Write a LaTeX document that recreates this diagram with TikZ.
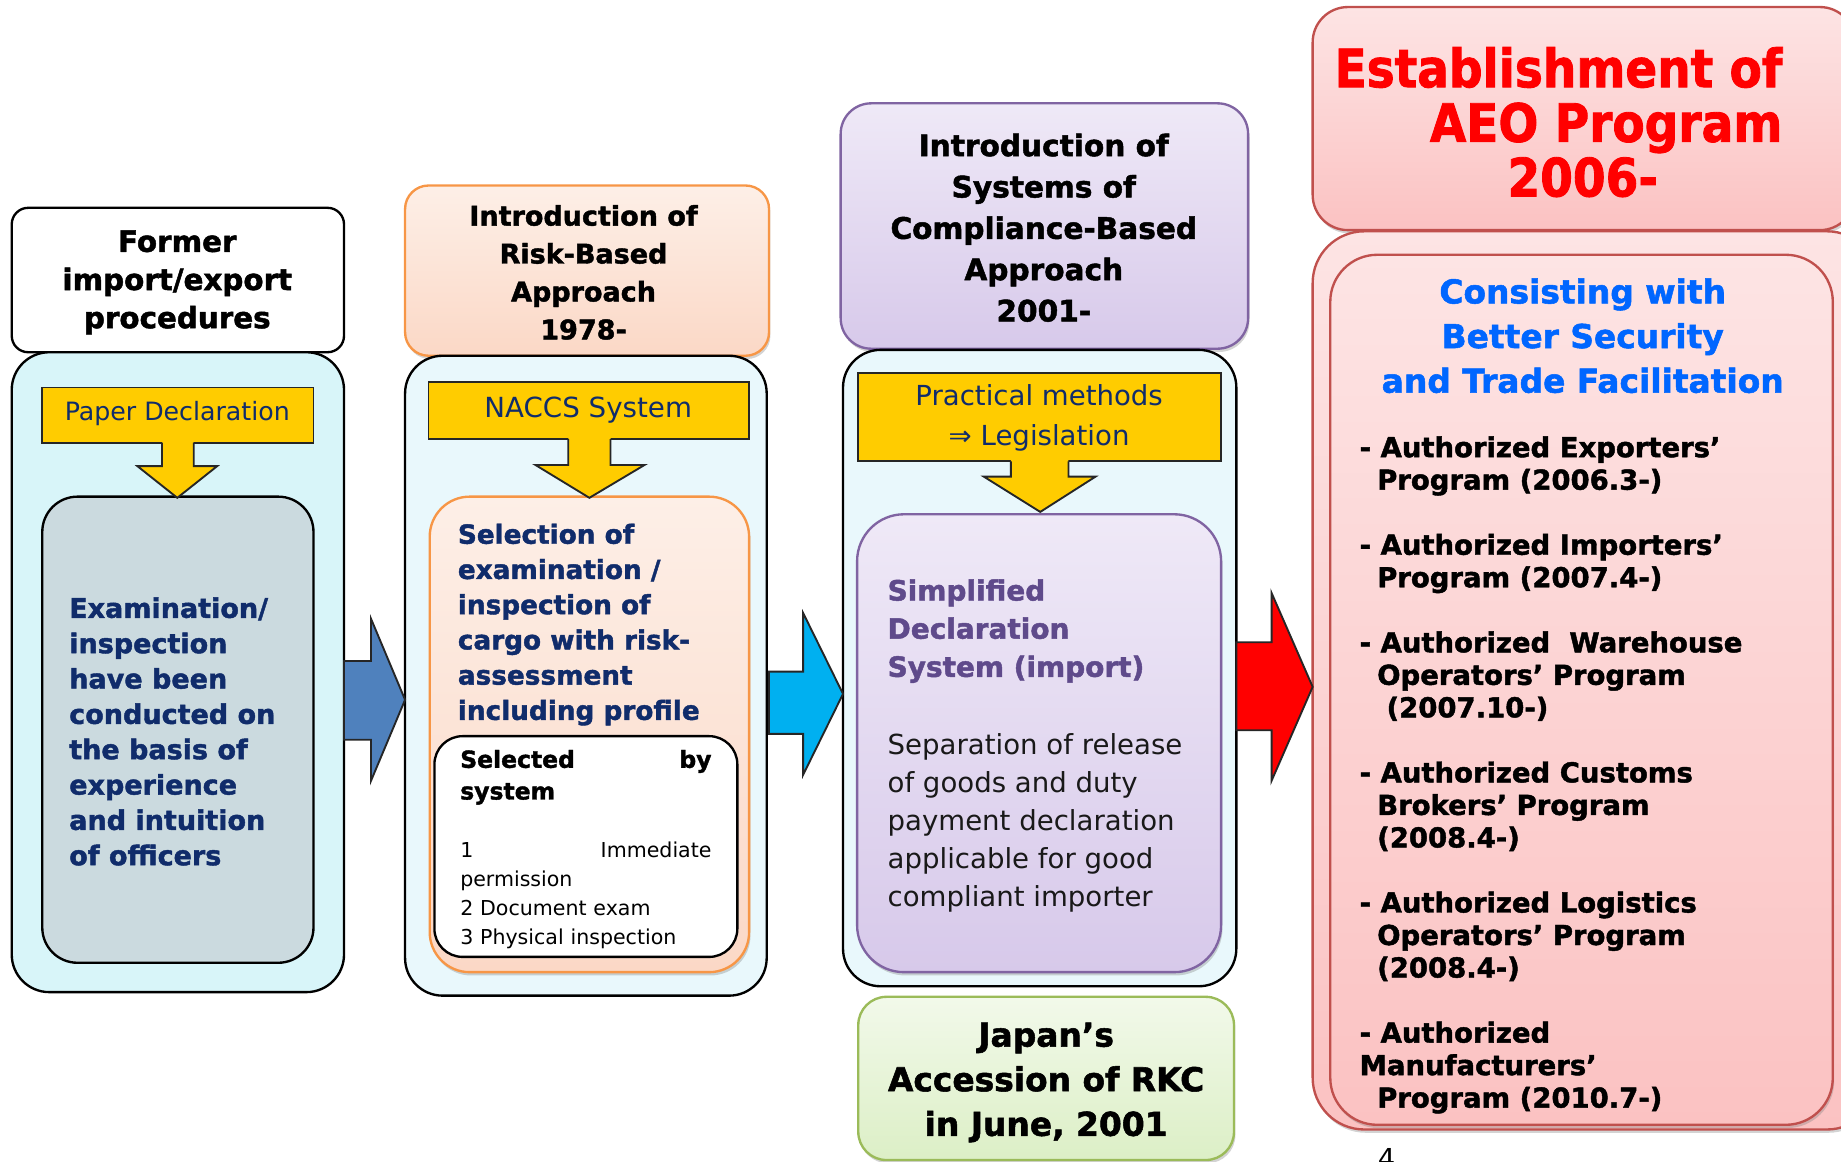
\documentclass[tikz,border=0pt]{standalone}
\usepackage{fontspec}
\setmainfont{DejaVu Sans}[BoldFeatures={FakeBold=1.6}]
\newfontfamily\condfont{DejaVu Sans}[FakeStretch=0.89,BoldFeatures={FakeBold=1.6}]
\usetikzlibrary{fit,shadows}
\definecolor{navy}{HTML}{102C6B}
\definecolor{ylw}{HTML}{FFCC00}
\definecolor{cyanA}{HTML}{D8F5F9}
\definecolor{cyanB}{HTML}{E9F8FC}
\definecolor{grayin}{HTML}{CBDADF}
\definecolor{orgline}{HTML}{F79646}
\definecolor{peachT}{HTML}{FDEFE7}
\definecolor{peachB}{HTML}{FBD8C6}
\definecolor{purline}{HTML}{8064A2}
\definecolor{purT}{HTML}{EFE9F7}
\definecolor{purB}{HTML}{D7C9EA}
\definecolor{purtext}{HTML}{5F4A8B}
\definecolor{grnline}{HTML}{9BBB59}
\definecolor{grnT}{HTML}{F2F9EA}
\definecolor{grnB}{HTML}{DCEFC6}
\definecolor{redline}{HTML}{C0504D}
\definecolor{pinkT}{HTML}{FDE4E4}
\definecolor{pinkB}{HTML}{FBC2C2}
\definecolor{aeoblue}{HTML}{0066FF}
\definecolor{steel}{HTML}{4F81BD}
\definecolor{skyb}{HTML}{00B0F0}
\begin{document}
\begin{tikzpicture}[x=0.5pt,y=-0.5pt,
  every node/.style={inner sep=0pt,outer sep=0pt},
  fbox/.style={rectangle,inner sep=0pt},
  shad/.style={drop shadow={shadow xshift=0.6pt,shadow yshift=-1.4pt,opacity=.35}},
  whitehdr/.style={fbox,draw=black,line width=1pt,fill=white,rounded corners=7pt},
  cyanbox/.style={fbox,draw=black,line width=1pt,rounded corners=16pt},
  banner/.style={fbox,draw=black!85,line width=0.8pt,fill=ylw},
  peachbox/.style={fbox,draw=orgline,line width=1pt,top color=peachT,bottom color=peachB,shad},
  purbox/.style={fbox,draw=purline,line width=1pt,top color=purT,bottom color=purB,shad},
  grnbox/.style={fbox,draw=grnline,line width=1pt,top color=grnT,bottom color=grnB,shad},
  pinkbox/.style={fbox,draw=redline,line width=1pt,top color=pinkT,bottom color=pinkB,shad},
  arrline/.style={draw=black!85,line width=0.8pt,line join=miter},
  bigarrow/.style={arrline},
]
\useasboundingbox (0,0) rectangle (1568,989);

% ---------------- column 1
\node[whitehdr,fit={(10,177)(293,300)}] (h1) {};
\node[font=\fontsize{12.5}{16.25}\selectfont\bfseries,align=center] (h1t) at (151,240.5) {Former\\import/export\\procedures};
\node[cyanbox,fill=cyanA,fit={(10,300)(293,845)}] (o1) {};
\node[banner,fit={(36,330)(267,377)}] (b1) {};
\node[font=\fontsize{10.75}{13}\selectfont,text=navy] (b1t) at (151,352.5) {Paper Declaration};
\node[fbox,draw=black,line width=1pt,fill=grayin,rounded corners=15pt,fit={(36,423)(267,820)}] (g1) {};
\fill[ylw] (138,375) -- (138,397) -- (117,397) -- (151,424) -- (185,397) -- (165,397) -- (165,375) -- cycle;
\draw[arrline] (138,377) -- (138,397) -- (117,397) -- (151,424) -- (185,397) -- (165,397) -- (165,377);
\node[font=\fontsize{11.5}{15.05}\selectfont\bfseries,text=navy,align=left,anchor=west] (g1t) at (59,623)
  {Examination/\\inspection\\have been\\conducted on\\the basis of\\experience\\and intuition\\of officers};

% ---------------- column 2
\node[fbox,draw=orgline,line width=1pt,rounded corners=10pt,top color=peachT,bottom color=peachB,shad,fit={(345,158)(655,303)}] (h2) {};
\node[font=\fontsize{11.5}{16.15}\selectfont\bfseries,align=center] (h2t) at (497,232) {Introduction of\\Risk-Based\\Approach\\1978-};
\node[cyanbox,fill=cyanB,fit={(345,303)(653,848)}] (o2) {};
\node[banner,fit={(365,325)(638,374)}] (b2) {};
\node[font=\fontsize{11.8}{14}\selectfont,text=navy] (b2t) at (501,349.5) {NACCS System};
\node[peachbox,rounded corners=17pt,fit={(366,423)(638,828)}] (p2) {};
\fill[ylw] (484,372) -- (484,396) -- (456,396) -- (502,424) -- (549,396) -- (520,396) -- (520,372) -- cycle;
\draw[arrline] (484,374) -- (484,396) -- (456,396) -- (502,424) -- (549,396) -- (520,396) -- (520,374);
\node[font=\fontsize{11.2}{15}\selectfont\bfseries,text=navy,align=left,anchor=west] (p2t) at (390,532)
  {Selection of\\examination /\\inspection of\\cargo with risk-\\assessment\\including profile};
\node[fbox,draw=black,line width=1pt,fill=white,rounded corners=12pt,fit={(370,627)(628,815)}] (w2) {};
\node[font=\fontsize{10}{13.5}\selectfont\bfseries,text width=107pt,align=left,anchor=west] (w2a) at (392,662)
  {Selected\hspace{0pt plus 1filll}by\\system};
\node[font=\fontsize{8.75}{12.3}\selectfont,text width=107pt,align=left,anchor=west] (w2b) at (392,762.5)
  {1\hspace{0pt plus 1filll}Immediate\\permission\\2 Document exam\\3 Physical inspection};

% ---------------- column 3
\node[fbox,draw=purline,line width=1pt,rounded corners=13pt,top color=purT,bottom color=purB,shad,fit={(716,88)(1063,297)}] (h3) {};
\node[font=\fontsize{12.6}{17.6}\selectfont\bfseries,align=center] (h3t) at (889,194) {Introduction of\\Systems of\\Compliance-Based\\Approach\\2001-};
\node[cyanbox,fill=cyanB,fit={(718,298)(1053,840)}] (o3) {};
\node[banner,fit={(731,318)(1040,393)}] (b3) {};
\node[font=\fontsize{11.75}{17}\selectfont,text=navy,align=center] (b3t) at (885,356) {Practical methods\\⇒ Legislation};
\node[purbox,rounded corners=20pt,fit={(730,438)(1040,828)}] (p3) {};
\fill[ylw] (861,391) -- (861,406) -- (838,406) -- (886,436) -- (933,406) -- (910,406) -- (910,391) -- cycle;
\draw[arrline] (861,393) -- (861,406) -- (838,406) -- (886,436) -- (933,406) -- (910,406) -- (910,393);
\node[font=\fontsize{11.9}{16.25}\selectfont\bfseries,text=purtext,align=left,anchor=west] (p3a) at (756,537.5)
  {Simplified\\Declaration\\System (import)};
\node[font=\fontsize{11.75}{16.25}\selectfont,text=black!90,align=left,anchor=west] (p3b) at (756,701)
  {Separation of release\\of goods and duty\\payment declaration\\applicable for good\\compliant importer};
\node[grnbox,rounded corners=12pt,fit={(731,849)(1051,988)}] (g3) {};
\node[font=\fontsize{14}{19}\selectfont\bfseries,align=center] (g3t) at (891,922) {Japan’s\\Accession of RKC\\in June, 2001};

% ---------------- column 4
\node[pinkbox,rounded corners=15pt,fit={(1118,6)(1580,196)}] (h4) {};
\node[font=\condfont\fontsize{22.5}{23.25}\selectfont\bfseries,text=red,align=right,anchor=east] (h4t) at (1518,104)
  {Establishment of\\AEO Program\\2006-\hspace*{53pt}};
\node[pinkbox,rounded corners=22pt,fit={(1118,197)(1600,962)}] (o4) {};
\node[pinkbox,rounded corners=20pt,fit={(1133,217)(1561,958)}] (i4) {};
\node[font=\fontsize{14}{19}\selectfont\bfseries,text=aeoblue,align=center] (i4a) at (1348,286)
  {Consisting with\\Better Security\\and Trade Facilitation};
\node[font=\fontsize{11.7}{13.85}\selectfont\bfseries,align=left,anchor=west] (i4b) at (1158,660)
  {- Authorized Exporters’\\
   \hspace*{7.5pt}Program (2006.3-)\\[13.85pt]
   - Authorized Importers’\\
   \hspace*{7.5pt}Program (2007.4-)\\[13.85pt]
   - Authorized\ \ Warehouse\\
   \hspace*{7.5pt}Operators’ Program\\
   \hspace*{11.5pt}(2007.10-)\\[13.85pt]
   - Authorized Customs\\
   \hspace*{7.5pt}Brokers’ Program\\
   \hspace*{7.5pt}(2008.4-)\\[13.85pt]
   - Authorized Logistics\\
   \hspace*{7.5pt}Operators’ Program\\
   \hspace*{7.5pt}(2008.4-)\\[13.85pt]
   - Authorized\\
   Manufacturers’\\
   \hspace*{7.5pt}Program (2010.7-)};
\node[font=\fontsize{11.7}{14}\selectfont,anchor=north] (pg) at (1181,978) {4};

% ---------------- block arrows between columns
\draw[bigarrow,fill=steel] (293,563) -- (316,563) -- (316,527) -- (345,596) -- (316,665) -- (316,630) -- (293,630) -- cycle;
\draw[bigarrow,fill=skyb] (655,572) -- (684,572) -- (684,522) -- (718,591) -- (684,660) -- (684,625) -- (655,625) -- cycle;
\draw[bigarrow,fill=red] (1053,547) -- (1083,547) -- (1083,505) -- (1118,585) -- (1083,665) -- (1083,622) -- (1053,622) -- cycle;
\end{tikzpicture}
\end{document}
